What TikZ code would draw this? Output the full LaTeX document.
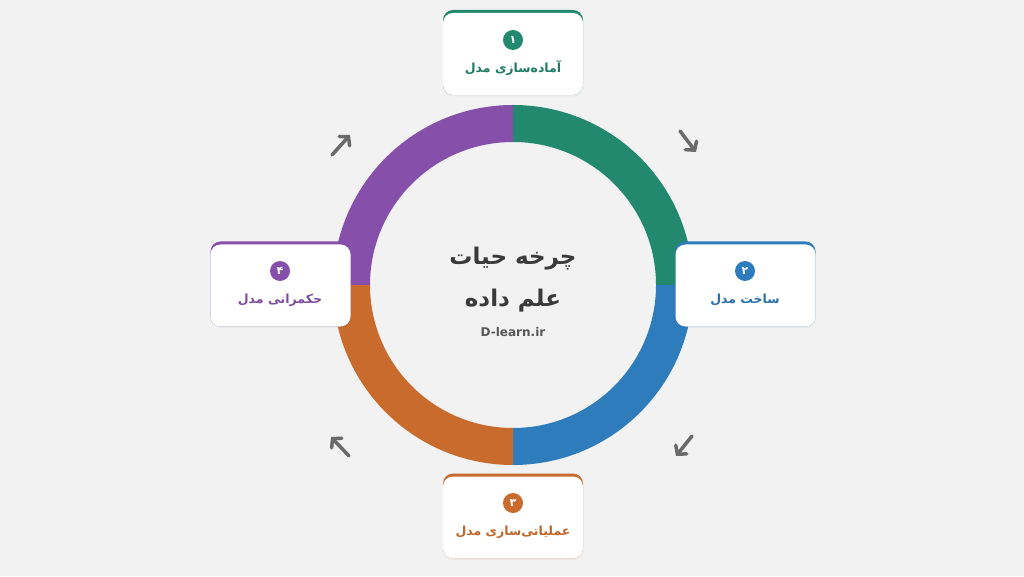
\documentclass[tikz,border=0pt]{standalone}
\usepackage{fontspec}
\setmainfont{DejaVu Sans}
\newfontfamily\farsi[Script=Arabic]{DejaVu Sans}
\TeXXeTstate=1
\usetikzlibrary{arrows.meta,shadows}
\definecolor{bgcolor}{HTML}{F2F2F2}
\definecolor{prepcol}{HTML}{22896E}
\definecolor{buildcol}{HTML}{2F7CBD}
\definecolor{opscol}{HTML}{C96B2C}
\definecolor{govcol}{HTML}{8650AA}
\definecolor{arrowgray}{HTML}{6A6A6A}
\definecolor{titlegray}{HTML}{3A3A3A}
\tikzset{
  edgebox/.style={rounded corners=10pt, minimum width=140pt, minimum height=85pt,
    inner sep=0pt, drop shadow={shadow xshift=0pt, shadow yshift=-1.5pt, opacity=0.035, fill=black}},
  cardbox/.style={fill=white, rounded corners=10pt, minimum width=140pt,
    minimum height=82pt, inner sep=0pt},
  numdot/.style={circle, minimum size=20pt, inner sep=0pt, text=white,
    font=\farsi\bfseries\fontsize{11}{11}\selectfont},
  steplabel/.style={font=\farsi\bfseries\fontsize{12.5}{12.5}\selectfont, inner sep=0pt},
  flowarrow/.style={draw=arrowgray, line width=3.5pt, line cap=round,
    -{Straight Barb[length=6pt, width=14pt, line cap=round]}}
}
\begin{document}
\begin{tikzpicture}[x=1pt,y=1pt]
  % background
  \fill[bgcolor] (0,0) rectangle (1024,576);
  \useasboundingbox (0,0) rectangle (1024,576);
  \coordinate (hub) at (513,291);
  % ring
  \fill[prepcol] ([shift={(0:180)}]hub) arc[start angle=0, end angle=90, radius=180]
    -- ([shift={(90:143)}]hub) arc[start angle=90, end angle=0, radius=143] -- cycle;
  \fill[buildcol] ([shift={(0:180)}]hub) arc[start angle=0, end angle=-90, radius=180]
    -- ([shift={(-90:143)}]hub) arc[start angle=-90, end angle=0, radius=143] -- cycle;
  \fill[opscol] ([shift={(180:180)}]hub) arc[start angle=180, end angle=270, radius=180]
    -- ([shift={(270:143)}]hub) arc[start angle=270, end angle=180, radius=143] -- cycle;
  \fill[govcol] ([shift={(180:180)}]hub) arc[start angle=180, end angle=90, radius=180]
    -- ([shift={(90:143)}]hub) arc[start angle=90, end angle=180, radius=143] -- cycle;
  % centre text
  \node[font=\farsi\bfseries\fontsize{23}{23}\selectfont, text=titlegray] (title1) at (513,317)
    {\beginR چرخه حیات\endR};
  \node[font=\farsi\bfseries\fontsize{23}{23}\selectfont, text=titlegray] (title2) at (513,275)
    {\beginR علم داده\endR};
  \node[font=\bfseries\fontsize{12}{12}\selectfont, text=titlegray!85] (site) at (513,244)
    {D-learn.ir};
  % step 1
  \node[edgebox, fill=prepcol] (prepedge) at (513,523.5) {};
  \node[cardbox] (prep) at ([yshift=-1.5pt]prepedge.center) {};
  \node[numdot, fill=prepcol] (prepnum) at (513,536) {۱};
  \node[steplabel, text=prepcol!90!black] (preplabel) at (513,508)
    {\beginR آماده‌سازی مدل\endR};
  % step 2
  \node[edgebox, fill=buildcol] (buildedge) at (745.5,292) {};
  \node[cardbox] (build) at ([yshift=-1.5pt]buildedge.center) {};
  \node[numdot, fill=buildcol] (buildnum) at (745,305) {۲};
  \node[steplabel, text=buildcol!90!black] (buildlabel) at (745,276)
    {\beginR ساخت مدل\endR};
  % step 3
  \node[edgebox, fill=opscol] (opsedge) at (513,60) {};
  \node[cardbox] (ops) at ([yshift=-1.5pt]opsedge.center) {};
  \node[numdot, fill=opscol] (opsnum) at (513,73) {۳};
  \node[steplabel, text=opscol!95!black] (opslabel) at (513,44)
    {\beginR عملیاتی‌سازی مدل\endR};
  % step 4
  \node[edgebox, fill=govcol] (govedge) at (280.5,292) {};
  \node[cardbox] (gov) at ([yshift=-1.5pt]govedge.center) {};
  \node[numdot, fill=govcol] (govnum) at (280,305) {۴};
  \node[steplabel, text=govcol!95!black] (govlabel) at (280,276)
    {\beginR حکمرانی مدل\endR};
  % flow arrows
  \coordinate (arrTRa) at (680,445);
  \coordinate (arrTRb) at (696,424);
  \coordinate (arrBRa) at (692,140);
  \coordinate (arrBRb) at (676,120);
  \coordinate (arrBLa) at (349,120);
  \coordinate (arrBLb) at (331,139);
  \coordinate (arrTLa) at (332,421);
  \coordinate (arrTLb) at (350,441);
  \draw[flowarrow] (arrTRa) -- (arrTRb);
  \draw[flowarrow] (arrBRa) -- (arrBRb);
  \draw[flowarrow] (arrBLa) -- (arrBLb);
  \draw[flowarrow] (arrTLa) -- (arrTLb);
\end{tikzpicture}
\end{document}
